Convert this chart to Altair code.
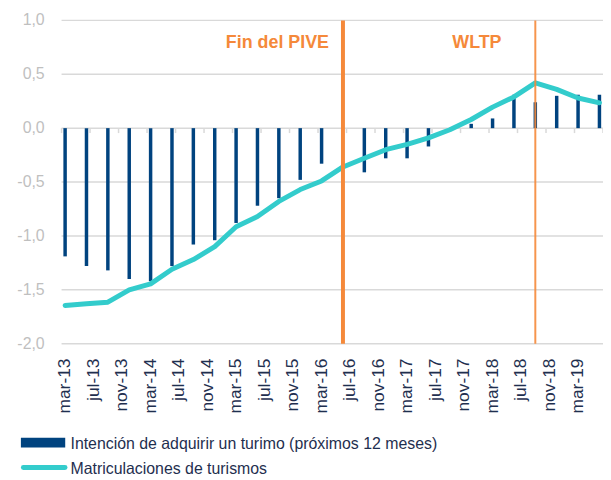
import altair as alt
import pandas as pd

# ---------------- data ----------------
quarters = ["2013-03", "2013-06", "2013-09", "2013-12",
            "2014-03", "2014-06", "2014-09", "2014-12",
            "2015-03", "2015-06", "2015-09", "2015-12",
            "2016-03", "2016-06", "2016-09", "2016-12",
            "2017-03", "2017-06", "2017-09", "2017-12",
            "2018-03", "2018-06", "2018-09", "2018-12",
            "2019-03", "2019-06"]

intencion = [-1.19, -1.28, -1.32, -1.40, -1.42, -1.28, -1.08, -1.04,
             -0.88, -0.72, -0.65, -0.48, -0.33, None, -0.41, -0.28,
             -0.28, -0.17, 0.0, 0.04, 0.09, 0.31, 0.24, 0.30,
             0.31, 0.31]

matriculaciones = [-1.645, -1.63, -1.615, -1.50, -1.445, -1.31, -1.22, -1.10,
                   -0.915, -0.82, -0.68, -0.57, -0.49, -0.36, -0.28, -0.20,
                   -0.15, -0.09, -0.015, 0.08, 0.195, 0.29, 0.42, 0.36,
                   0.28, 0.235]

tick_labels = ["mar-13", "jul-13", "nov-13", "mar-14", "jul-14", "nov-14",
               "mar-15", "jul-15", "nov-15", "mar-16", "jul-16", "nov-16",
               "mar-17", "jul-17", "nov-17", "mar-18", "jul-18", "nov-18",
               "mar-19"]

series_names = ["Intención de adquirir un turimo (próximos 12 meses)",
                "Matriculaciones de turismos"]

events = ["2016-06", "2018-09"]
event_labels = ["Fin del PIVE", "WLTP"]

y_ticks = [-2.0, -1.5, -1.0, -0.5, 0.0, 0.5, 1.0]
y_tick_labels = ["-2,0", "-1,5", "-1,0", "-0,5", "0,0", "0,5", "1,0"]

# ---------------- styling ----------------
NAVY = "#00437F"
TEAL = "#33CCCC"
ORANGE = "#F5893A"
GRID = "#D9D9D9"
YLAB = "#BFBFBF"
TXT = "#1F2F4F"
FONT = "Liberation Sans"


def month_index(s):
    y, m = map(int, s.split("-"))
    return (y - 2013) * 12 + (m - 3)


n_months = month_index("2019-06") + 1
df = pd.DataFrame({
    "t": [month_index(q) for q in quarters],
    "int": intencion,
    "mat": matriculaciones,
})
df["zero"] = 0.0
xlab_df = pd.DataFrame({"t": [4 * k for k in range(len(tick_labels))], "lab": tick_labels})
ticks_df = pd.DataFrame({"t": [4 * k - 0.5 for k in range(len(tick_labels) + 1)]})
ticks_df["zero"] = 0.0
ylab_df = pd.DataFrame({"v": y_ticks, "lab": y_tick_labels})
ev_df = pd.DataFrame({"t": [month_index(e) for e in events], "label": event_labels})
ev_df["top"] = 1.0
ev_df["bot"] = -2.0
# annotation anchor (centre of the text, in data units)
ann_df = pd.DataFrame({"t": [29.8, 57.8], "v": [0.74, 0.74], "label": event_labels})
one = pd.DataFrame({"a": [0]})

xscale = alt.Scale(domain=[-0.5, n_months - 0.5], nice=False, zero=False)
yscale = alt.Scale(domain=[-2, 1], nice=False, zero=False)

X = alt.X("t:Q", scale=xscale, axis=None)


def Y(field):
    return alt.Y(field, type="quantitative", scale=yscale, axis=None)


# gridlines
grid = alt.Chart(ylab_df).mark_rule(color=GRID, strokeWidth=1.5).encode(
    y=Y("v"), x=alt.value(0), x2=alt.value(546))

# y labels
ylabs = alt.Chart(ylab_df).mark_text(
    color=YLAB, fontSize=16, font=FONT, align="right", baseline="middle", dx=-17
).encode(y=Y("v"), x=alt.value(0), text="lab:N")

# x labels (rotated)
xlabs = alt.Chart(xlab_df).mark_text(
    color=TXT, fontSize=17.5, font=FONT, angle=270, align="right", baseline="middle"
).encode(x=X, y=alt.value(326 + 15), text="lab:N")

ticks = alt.Chart(ticks_df).mark_rule(color=GRID, strokeWidth=1.5, y2Offset=5).encode(
    x=X, y=Y("zero"), y2="zero:Q")

bars = alt.Chart(df).transform_filter("isValid(datum.int)").mark_rule(
    strokeWidth=3.5, color=NAVY
).encode(x=X, y=Y("int"), y2="zero:Q")

line = alt.Chart(df).mark_line(
    color=TEAL, strokeWidth=5, strokeCap="round", strokeJoin="round"
).encode(x=X, y=Y("mat"))

ev1 = alt.Chart(ev_df.iloc[[0]]).mark_rule(color=ORANGE, strokeWidth=4).encode(
    x=X, y=Y("top"), y2="bot:Q")
ev2 = alt.Chart(ev_df.iloc[[1]]).mark_rule(color=ORANGE, strokeWidth=2, opacity=0.9).encode(
    x=X, y=Y("top"), y2="bot:Q")

ann = alt.Chart(ann_df).mark_text(
    color=ORANGE, fontSize=18, fontWeight="bold", font=FONT,
    align="center", baseline="alphabetic"
).encode(x=X, y=Y("v"), text="label:N")

# manual legend (below the plot)
leg_bar = alt.Chart(one).mark_rect(color=NAVY).encode(
    x=alt.value(-41), x2=alt.value(3.7), y=alt.value(420.8), y2=alt.value(430.8))
leg_line = alt.Chart(one).mark_rule(color=TEAL, strokeWidth=5, strokeCap="round").encode(
    x=alt.value(-38.5), x2=alt.value(3.5), y=alt.value(450.8))
leg_style = dict(color=TXT, fontSize=16, font=FONT, align="left", baseline="alphabetic")
leg_t1 = alt.Chart(one).mark_text(text=series_names[0], **leg_style).encode(
    x=alt.value(9), y=alt.value(432.2))
leg_t2 = alt.Chart(one).mark_text(text=series_names[1], **leg_style).encode(
    x=alt.value(9), y=alt.value(457.5))

chart = alt.layer(
    grid, ylabs, xlabs, ticks, bars, line, ev1, ev2, ann,
    leg_bar, leg_line, leg_t1, leg_t2
).properties(
    width=546, height=326,
    autosize=alt.AutoSizeParams(type="none"),
    padding={"left": 54, "top": 10.5, "right": 0, "bottom": 135.5},
).configure_view(stroke=None)

chart.save("out.html", embed_options={"renderer": "svg", "actions": False})
